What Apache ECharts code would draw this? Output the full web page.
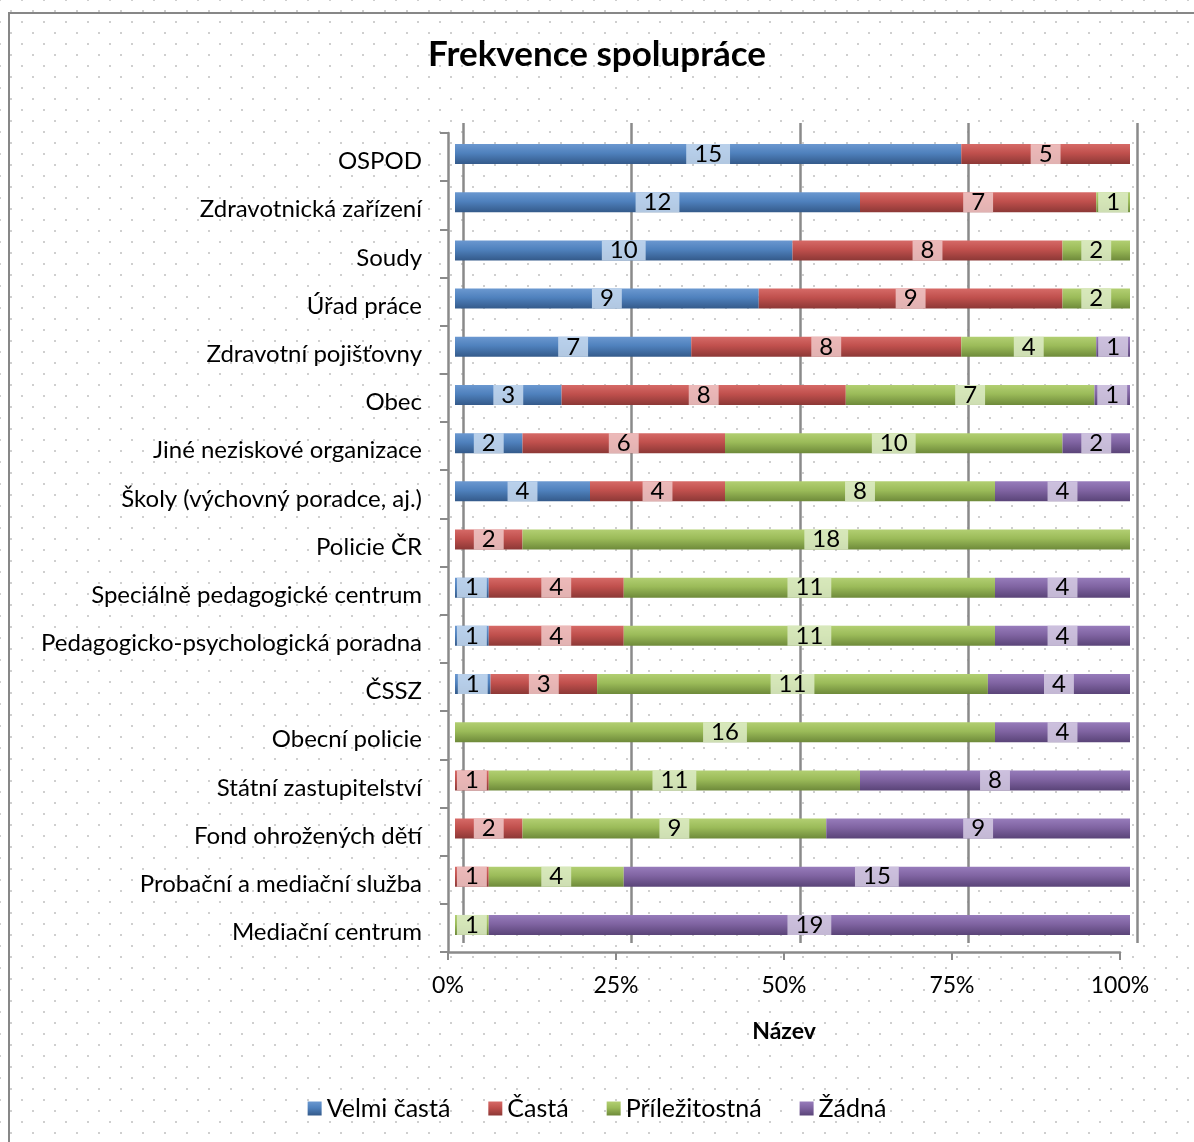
<!DOCTYPE html>
<html>
<head>
<meta charset="utf-8">
<script src="https://cdn.jsdelivr.net/npm/echarts@6/dist/echarts.min.js"></script>
<style>
  html, body { margin: 0; padding: 0; background: #fff; }
  #wrap { position: relative; width: 1194px; height: 1142px; overflow: hidden;
    background-image: radial-gradient(circle, #cfcfcf 1px, transparent 1.4px), radial-gradient(circle, #cfcfcf 1px, transparent 1.4px);
    background-size: 22px 22px, 22px 22px; background-position: 0 0, 11px 11px; }
  #frame { position: absolute; left: 8px; top: 12px; width: 1200px; height: 1200px; border-left: 2px solid #878787; border-top: 2px solid #878787; box-sizing: border-box; }
  #chart { position: absolute; left: 0; top: 0; width: 1194px; height: 1142px; }
</style>
</head>
<body>
<div id="wrap"><div id="frame"></div><div id="chart"></div></div>
<script>
const categories = ['OSPOD','Zdravotnická zařízení','Soudy','Úřad práce','Zdravotní pojišťovny','Obec','Jiné neziskové organizace','Školy (výchovný poradce, aj.)','Policie ČR','Speciálně pedagogické centrum','Pedagogicko-psychologická poradna','ČSSZ','Obecní policie','Státní zastupitelství','Fond ohrožených dětí','Probační a mediační služba','Mediační centrum'];
const velmiCasta   = [15,12,10,9,7,3,2,4,0,1,1,1,0,0,0,0,0];
const casta        = [5,7,8,9,8,8,6,4,2,4,4,3,0,1,2,1,0];
const prilezitostna= [0,1,2,2,4,7,10,8,18,11,11,11,16,11,9,4,1];
const zadna        = [0,0,0,0,1,1,2,4,0,4,4,4,4,8,9,15,19];
const seriesNames = ['Velmi častá','Častá','Příležitostná','Žádná'];
const tickLabels = ['0%','25%','50%','75%','100%'];

const raw = [velmiCasta, casta, prilezitostna, zadna];
const totals = categories.map((c, i) => raw.reduce((s, arr) => s + arr[i], 0));
const colors = ['#4F81BD','#C0504D','#9BBB59','#8064A2'];
const shades = [
  ['#6b98d0','#4f81bd','#345a8a'],
  ['#d66a67','#c0504d','#8c3836'],
  ['#b2cf72','#9bbb59','#6e8a3a'],
  ['#977cbb','#8064a2','#5a4478']
];
const labelBg = ['rgba(200,218,240,0.85)','rgba(240,200,200,0.85)','rgba(222,236,200,0.85)','rgba(214,204,228,0.85)'];
const FONT = 'Lato, "Noto Sans", sans-serif';

const series = raw.map((arr, k) => ({
  name: seriesNames[k],
  type: 'bar',
  stack: 'total',
  xAxisIndex: 1, yAxisIndex: 1,
  barWidth: 20,
  itemStyle: {
    color: new echarts.graphic.LinearGradient(0, 0, 0, 1, [
      {offset: 0, color: shades[k][0]},
      {offset: 0.45, color: shades[k][1]},
      {offset: 1, color: shades[k][2]}
    ])
  },
  label: {
    show: true, position: 'inside', color: '#000',
    fontFamily: FONT, fontSize: 24, lineHeight: 20,
    backgroundColor: labelBg[k], padding: [2, 8, -2, 8],
    formatter: p => arr[p.dataIndex] ? String(arr[p.dataIndex]) : ''
  },
  data: arr.map((v, i) => v / totals[i] * 100)
}));

const chart = echarts.init(document.getElementById('chart'), null, {renderer: 'canvas'});
chart.setOption({
  animation: false,
  color: colors,
  title: {
    text: 'Frekvence spolupráce', left: 'center', top: 32,
    textStyle: {fontFamily: FONT, fontWeight: 'bold', fontSize: 35, color: '#000'}
  },
  legend: {
    bottom: 16, left: 'center', itemWidth: 14, itemHeight: 14, itemGap: 38,
    icon: 'rect',
    textStyle: {fontFamily: FONT, fontSize: 25, color: '#000'},
    data: seriesNames
  },
  grid: [
    {left: 463, right: 57, top: 123, bottom: 199},
    {left: 455, right: 64, top: 130, bottom: 193},
    {left: 448, right: 74, top: 133, bottom: 190}
  ],
  xAxis: [
    {gridIndex: 0, type: 'value', min: 0, max: 100, interval: 25,
     axisLine: {show: false}, axisTick: {show: false}, axisLabel: {show: false},
     splitLine: {show: true, lineStyle: {color: '#8a8a8a', width: 2.5}}},
    {gridIndex: 1, type: 'value', min: 0, max: 100, show: false, splitLine: {show: false}},
    {gridIndex: 2, type: 'value', min: 0, max: 100, interval: 25,
     axisLine: {show: true, lineStyle: {color: '#8a8a8a', width: 2.5}},
     axisTick: {show: true, length: 8, lineStyle: {color: '#8a8a8a', width: 2}},
     axisLabel: {fontFamily: FONT, fontSize: 23, color: '#000', margin: 22,
       formatter: v => tickLabels[v / 25]},
     splitLine: {show: false},
     name: 'Název', nameLocation: 'middle', nameGap: 68,
     nameTextStyle: {fontFamily: FONT, fontSize: 23, fontWeight: 'bold', color: '#000'}}
  ],
  yAxis: [
    {gridIndex: 0, type: 'category', inverse: true, data: categories, show: false},
    {gridIndex: 1, type: 'category', inverse: true, data: categories, show: false},
    {gridIndex: 2, type: 'category', inverse: true, data: categories,
     axisLine: {show: true, lineStyle: {color: '#8a8a8a', width: 2.5}},
     axisTick: {show: true, length: 8, inside: false, lineStyle: {color: '#8a8a8a', width: 2}},
     axisLabel: {color: '#000', margin: 26,
       formatter: v => '{c|' + v + '}',
       rich: {c: {fontFamily: FONT, fontSize: 24, color: '#000', padding: [9, 0, 0, 0]}}},
     splitLine: {show: false}}
  ],
  series: series
});
</script>
</body>
</html>
